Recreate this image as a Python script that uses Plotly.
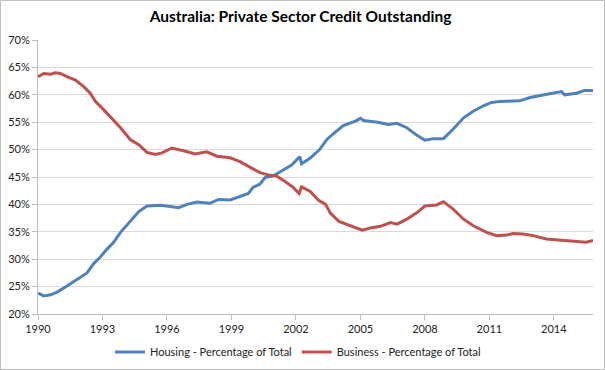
import plotly.graph_objects as go

title = "Australia: Private Sector Credit Outstanding"

housing_years = [1990.0, 1990.27, 1990.58, 1990.89, 1991.35, 1991.82, 1992.28, 1992.59, 1992.9, 1993.2,
                 1993.5, 1993.84, 1994.3, 1994.69, 1995.07, 1995.69, 1996.15, 1996.54, 1996.93, 1997.39,
                 1998.0, 1998.4, 1998.94, 1999.4, 1999.79, 2000.0, 2000.33, 2000.56, 2000.95, 2001.33,
                 2001.8, 2002.1, 2002.18, 2002.26, 2002.65, 2003.1, 2003.45, 2003.75, 2004.2, 2004.77,
                 2005.0, 2005.15, 2005.8, 2006.3, 2006.7, 2007.16, 2007.63, 2008.0, 2008.4, 2008.86,
                 2009.33, 2009.8, 2010.25, 2010.72, 2011.1, 2011.5, 2011.95, 2012.4, 2012.9, 2013.35,
                 2013.8, 2014.35, 2014.5, 2015.05, 2015.43, 2015.82]
housing_values = [23.8, 23.3, 23.5, 24.0, 25.1, 26.3, 27.5, 29.2, 30.4, 31.8,
                  33.0, 34.9, 37.0, 38.7, 39.7, 39.85, 39.6, 39.4, 40.0, 40.45,
                  40.2, 40.9, 40.8, 41.4, 42.0, 43.1, 43.7, 44.9, 45.2, 46.1,
                  47.2, 48.4, 48.7, 47.4, 48.4, 50.0, 51.9, 52.9, 54.4, 55.2,
                  55.7, 55.3, 55.0, 54.6, 54.8, 54.0, 52.6, 51.7, 52.0, 52.0,
                  53.8, 55.8, 57.0, 58.0, 58.6, 58.8, 58.9, 58.9, 59.5, 59.9,
                  60.2, 60.6, 60.0, 60.3, 60.8, 60.8]

business_years = [1990.0, 1990.27, 1990.58, 1990.81, 1991.04, 1991.35, 1991.74, 1992.13, 1992.43, 1992.67,
                  1993.05, 1993.36, 1993.84, 1994.3, 1994.69, 1995.07, 1995.46, 1995.77, 1996.23, 1996.77,
                  1997.31, 1997.85, 1998.32, 1998.94, 1999.4, 1999.86, 2000.33, 2000.79, 2001.1, 2001.56,
                  2001.87, 2002.15, 2002.26, 2002.65, 2003.07, 2003.38, 2003.6, 2004.0, 2004.5, 2005.08,
                  2005.46, 2005.93, 2006.4, 2006.7, 2007.16, 2007.63, 2008.0, 2008.55, 2008.86, 2009.33,
                  2009.8, 2010.25, 2010.87, 2011.34, 2011.8, 2012.1, 2012.57, 2013.04, 2013.65, 2014.27,
                  2014.9, 2015.5, 2015.82]
business_values = [63.3, 63.9, 63.75, 64.0, 63.9, 63.3, 62.7, 61.5, 60.3, 58.8,
                   57.3, 56.0, 54.0, 51.8, 50.9, 49.5, 49.1, 49.4, 50.3, 49.8,
                   49.2, 49.6, 48.8, 48.5, 47.8, 46.8, 45.8, 45.3, 45.2, 44.0,
                   43.1, 42.0, 43.2, 42.4, 40.7, 40.0, 38.4, 36.9, 36.1, 35.3,
                   35.7, 36.0, 36.7, 36.4, 37.3, 38.5, 39.7, 39.9, 40.5, 39.1,
                   37.3, 36.1, 34.9, 34.3, 34.4, 34.7, 34.6, 34.3, 33.7, 33.5,
                   33.4, 33.1, 33.4]

x_tick_vals = [1990, 1993, 1996, 1999, 2002, 2005, 2008, 2011, 2014]
x_tick_text = ["1990", "1993", "1996", "1999", "2002", "2005", "2008", "2011", "2014"]
y_tick_vals = [20, 25, 30, 35, 40, 45, 50, 55, 60, 65, 70]
y_tick_text = ["20%", "25%", "30%", "35%", "40%", "45%", "50%", "55%", "60%", "65%", "70%"]

housing_name = "Housing - Percentage of Total"
business_name = "Business - Percentage of Total"

fig = go.Figure()
fig.add_trace(go.Scatter(x=housing_years, y=housing_values, mode="lines", name=housing_name,
                         line=dict(color="#4F81BD", width=3)))
fig.add_trace(go.Scatter(x=business_years, y=business_values, mode="lines", name=business_name,
                         line=dict(color="#C0504D", width=3)))

L, R, T, B = 38, 12, 40, 56
W, H = 605, 370
pw, ph = W - L - R, H - T - B

fig.update_layout(
    width=W, height=H,
    margin=dict(l=L, r=R, t=T, b=B, autoexpand=False),
    paper_bgcolor="white", plot_bgcolor="white",
    font=dict(family="Lato, Open Sans, sans-serif", size=11, color="#222222"),
    title=dict(text="<b>" + title + "</b>", xref="paper", x=(300.5 - L) / pw, xanchor="center",
               y=1 - 17 / H, yanchor="middle",
               font=dict(size=15.5, color="#000000")),
    showlegend=True,
    legend=dict(orientation="h", xref="container", x=(298 / W), xanchor="center",
                y=-(352 - 314) / ph, yanchor="middle",
                font=dict(size=11), itemwidth=30, tracegroupgap=0),
    xaxis=dict(range=[1990, 2015.82], tickvals=x_tick_vals, ticktext=x_tick_text, automargin=False,
               showgrid=False, showline=True, linecolor="#BFBFBF", linewidth=1,
               ticks="outside", ticklen=5, tickcolor="#BFBFBF", zeroline=False),
    yaxis=dict(range=[20, 70], tickvals=y_tick_vals, ticktext=y_tick_text, automargin=False,
               showgrid=True, gridcolor="#D9D9D9", gridwidth=1,
               showline=True, linecolor="#BFBFBF", linewidth=1,
               ticks="outside", ticklen=5, tickcolor="#BFBFBF", zeroline=False),
)

fig.add_shape(type="rect", xref="paper", yref="paper",
              x0=-(L - 0.5) / pw, x1=1 + (R - 0.5) / pw,
              y0=-(B - 0.5) / ph, y1=1 + (T - 0.5) / ph,
              line=dict(color="#BFBFBF", width=1), layer="below")

fig.write_html("out.html", config={"displayModeBar": False},
               post_script="document.body.style.margin='0';document.body.style.overflow='hidden';")
